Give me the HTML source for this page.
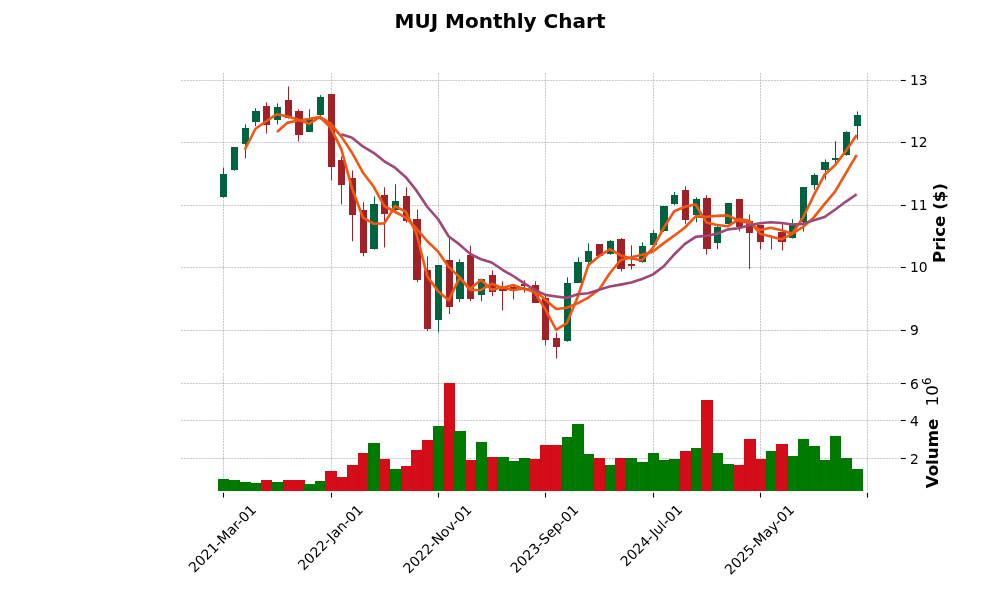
<!DOCTYPE html>
<html lang="en"><head><meta charset="utf-8"><title>MUJ Monthly Chart</title>
<style>html,body{margin:0;padding:0;background:#fff;width:1000px;height:600px;overflow:hidden}</style></head>
<body>
<svg width="1000" height="600" viewBox="0 0 1000 600" style="display:block">
<rect width="1000" height="600" fill="#ffffff"/>
<g stroke="#a8a8a8" stroke-width="0.62" stroke-dasharray="2.06 0.89" fill="none">
<path d="M181.0 80.5H898.6"/>
<path d="M181.0 142.5H898.6"/>
<path d="M181.0 205.5H898.6"/>
<path d="M181.0 267.5H898.6"/>
<path d="M181.0 330.5H898.6"/>
<path d="M181.0 383.5H898.6"/>
<path d="M181.0 420.5H898.6"/>
<path d="M181.0 458.5H898.6"/>
<path d="M223.50 73.2V370.6"/>
<path d="M223.50 373.2V490.6"/>
<path d="M331.50 73.2V370.6"/>
<path d="M331.50 373.2V490.6"/>
<path d="M438.50 73.2V370.6"/>
<path d="M438.50 373.2V490.6"/>
<path d="M545.50 73.2V370.6"/>
<path d="M545.50 373.2V490.6"/>
<path d="M653.50 73.2V370.6"/>
<path d="M653.50 373.2V490.6"/>
<path d="M760.50 73.2V370.6"/>
<path d="M760.50 373.2V490.6"/>
<path d="M867.50 73.2V370.6"/>
<path d="M867.50 373.2V490.6"/>
</g>
<g stroke-width="1">
<rect x="218" y="479" width="11" height="12" fill="#007a00" stroke="none"/>
<path d="M218.5 491V479.5H228.5V491" fill="none" stroke="#006e00" stroke-opacity="0.4"/>
<rect x="229" y="480" width="11" height="11" fill="#007a00" stroke="none"/>
<path d="M229.5 491V480.5H239.5V491" fill="none" stroke="#006e00" stroke-opacity="0.4"/>
<rect x="240" y="482" width="11" height="9" fill="#007a00" stroke="none"/>
<path d="M240.5 491V482.5H250.5V491" fill="none" stroke="#006e00" stroke-opacity="0.4"/>
<rect x="250" y="483" width="12" height="8" fill="#007a00" stroke="none"/>
<path d="M250.5 491V483.5H261.5V491" fill="none" stroke="#006e00" stroke-opacity="0.4"/>
<rect x="261" y="480" width="11" height="11" fill="#d50d18" stroke="none"/>
<path d="M261.5 491V480.5H271.5V491" fill="none" stroke="#c00c16" stroke-opacity="0.4"/>
<rect x="272" y="482" width="11" height="9" fill="#007a00" stroke="none"/>
<path d="M272.5 491V482.5H282.5V491" fill="none" stroke="#006e00" stroke-opacity="0.4"/>
<rect x="283" y="480" width="11" height="11" fill="#d50d18" stroke="none"/>
<path d="M283.5 491V480.5H293.5V491" fill="none" stroke="#c00c16" stroke-opacity="0.4"/>
<rect x="293" y="480" width="12" height="11" fill="#d50d18" stroke="none"/>
<path d="M293.5 491V480.5H304.5V491" fill="none" stroke="#c00c16" stroke-opacity="0.4"/>
<rect x="304" y="484" width="11" height="7" fill="#007a00" stroke="none"/>
<path d="M304.5 491V484.5H314.5V491" fill="none" stroke="#006e00" stroke-opacity="0.4"/>
<rect x="315" y="481" width="11" height="10" fill="#007a00" stroke="none"/>
<path d="M315.5 491V481.5H325.5V491" fill="none" stroke="#006e00" stroke-opacity="0.4"/>
<rect x="325" y="471" width="12" height="20" fill="#d50d18" stroke="none"/>
<path d="M325.5 491V471.5H336.5V491" fill="none" stroke="#c00c16" stroke-opacity="0.4"/>
<rect x="336" y="477" width="12" height="14" fill="#d50d18" stroke="none"/>
<path d="M336.5 491V477.5H347.5V491" fill="none" stroke="#c00c16" stroke-opacity="0.4"/>
<rect x="347" y="465" width="11" height="26" fill="#d50d18" stroke="none"/>
<path d="M347.5 491V465.5H357.5V491" fill="none" stroke="#c00c16" stroke-opacity="0.4"/>
<rect x="358" y="453" width="11" height="38" fill="#d50d18" stroke="none"/>
<path d="M358.5 491V453.5H368.5V491" fill="none" stroke="#c00c16" stroke-opacity="0.4"/>
<rect x="368" y="443" width="12" height="48" fill="#007a00" stroke="none"/>
<path d="M368.5 491V443.5H379.5V491" fill="none" stroke="#006e00" stroke-opacity="0.4"/>
<rect x="379" y="459" width="11" height="32" fill="#d50d18" stroke="none"/>
<path d="M379.5 491V459.5H389.5V491" fill="none" stroke="#c00c16" stroke-opacity="0.4"/>
<rect x="390" y="469" width="11" height="22" fill="#007a00" stroke="none"/>
<path d="M390.5 491V469.5H400.5V491" fill="none" stroke="#006e00" stroke-opacity="0.4"/>
<rect x="401" y="466" width="11" height="25" fill="#d50d18" stroke="none"/>
<path d="M401.5 491V466.5H411.5V491" fill="none" stroke="#c00c16" stroke-opacity="0.4"/>
<rect x="411" y="450" width="12" height="41" fill="#d50d18" stroke="none"/>
<path d="M411.5 491V450.5H422.5V491" fill="none" stroke="#c00c16" stroke-opacity="0.4"/>
<rect x="422" y="440" width="11" height="51" fill="#d50d18" stroke="none"/>
<path d="M422.5 491V440.5H432.5V491" fill="none" stroke="#c00c16" stroke-opacity="0.4"/>
<rect x="433" y="426" width="11" height="65" fill="#007a00" stroke="none"/>
<path d="M433.5 491V426.5H443.5V491" fill="none" stroke="#006e00" stroke-opacity="0.4"/>
<rect x="444" y="383" width="11" height="108" fill="#d50d18" stroke="none"/>
<path d="M444.5 491V383.5H454.5V491" fill="none" stroke="#c00c16" stroke-opacity="0.4"/>
<rect x="454" y="431" width="12" height="60" fill="#007a00" stroke="none"/>
<path d="M454.5 491V431.5H465.5V491" fill="none" stroke="#006e00" stroke-opacity="0.4"/>
<rect x="465" y="460" width="11" height="31" fill="#d50d18" stroke="none"/>
<path d="M465.5 491V460.5H475.5V491" fill="none" stroke="#c00c16" stroke-opacity="0.4"/>
<rect x="476" y="442" width="11" height="49" fill="#007a00" stroke="none"/>
<path d="M476.5 491V442.5H486.5V491" fill="none" stroke="#006e00" stroke-opacity="0.4"/>
<rect x="487" y="457" width="11" height="34" fill="#d50d18" stroke="none"/>
<path d="M487.5 491V457.5H497.5V491" fill="none" stroke="#c00c16" stroke-opacity="0.4"/>
<rect x="497" y="457" width="12" height="34" fill="#007a00" stroke="none"/>
<path d="M497.5 491V457.5H508.5V491" fill="none" stroke="#006e00" stroke-opacity="0.4"/>
<rect x="508" y="461" width="11" height="30" fill="#007a00" stroke="none"/>
<path d="M508.5 491V461.5H518.5V491" fill="none" stroke="#006e00" stroke-opacity="0.4"/>
<rect x="519" y="458" width="11" height="33" fill="#007a00" stroke="none"/>
<path d="M519.5 491V458.5H529.5V491" fill="none" stroke="#006e00" stroke-opacity="0.4"/>
<rect x="529" y="459" width="12" height="32" fill="#d50d18" stroke="none"/>
<path d="M529.5 491V459.5H540.5V491" fill="none" stroke="#c00c16" stroke-opacity="0.4"/>
<rect x="540" y="445" width="12" height="46" fill="#d50d18" stroke="none"/>
<path d="M540.5 491V445.5H551.5V491" fill="none" stroke="#c00c16" stroke-opacity="0.4"/>
<rect x="551" y="445" width="11" height="46" fill="#d50d18" stroke="none"/>
<path d="M551.5 491V445.5H561.5V491" fill="none" stroke="#c00c16" stroke-opacity="0.4"/>
<rect x="562" y="437" width="11" height="54" fill="#007a00" stroke="none"/>
<path d="M562.5 491V437.5H572.5V491" fill="none" stroke="#006e00" stroke-opacity="0.4"/>
<rect x="572" y="424" width="12" height="67" fill="#007a00" stroke="none"/>
<path d="M572.5 491V424.5H583.5V491" fill="none" stroke="#006e00" stroke-opacity="0.4"/>
<rect x="583" y="454" width="11" height="37" fill="#007a00" stroke="none"/>
<path d="M583.5 491V454.5H593.5V491" fill="none" stroke="#006e00" stroke-opacity="0.4"/>
<rect x="594" y="458" width="11" height="33" fill="#d50d18" stroke="none"/>
<path d="M594.5 491V458.5H604.5V491" fill="none" stroke="#c00c16" stroke-opacity="0.4"/>
<rect x="605" y="465" width="11" height="26" fill="#007a00" stroke="none"/>
<path d="M605.5 491V465.5H615.5V491" fill="none" stroke="#006e00" stroke-opacity="0.4"/>
<rect x="615" y="458" width="12" height="33" fill="#d50d18" stroke="none"/>
<path d="M615.5 491V458.5H626.5V491" fill="none" stroke="#c00c16" stroke-opacity="0.4"/>
<rect x="626" y="458" width="11" height="33" fill="#007a00" stroke="none"/>
<path d="M626.5 491V458.5H636.5V491" fill="none" stroke="#006e00" stroke-opacity="0.4"/>
<rect x="637" y="462" width="11" height="29" fill="#007a00" stroke="none"/>
<path d="M637.5 491V462.5H647.5V491" fill="none" stroke="#006e00" stroke-opacity="0.4"/>
<rect x="648" y="453" width="11" height="38" fill="#007a00" stroke="none"/>
<path d="M648.5 491V453.5H658.5V491" fill="none" stroke="#006e00" stroke-opacity="0.4"/>
<rect x="658" y="460" width="12" height="31" fill="#007a00" stroke="none"/>
<path d="M658.5 491V460.5H669.5V491" fill="none" stroke="#006e00" stroke-opacity="0.4"/>
<rect x="669" y="459" width="11" height="32" fill="#007a00" stroke="none"/>
<path d="M669.5 491V459.5H679.5V491" fill="none" stroke="#006e00" stroke-opacity="0.4"/>
<rect x="680" y="451" width="11" height="40" fill="#d50d18" stroke="none"/>
<path d="M680.5 491V451.5H690.5V491" fill="none" stroke="#c00c16" stroke-opacity="0.4"/>
<rect x="691" y="448" width="11" height="43" fill="#007a00" stroke="none"/>
<path d="M691.5 491V448.5H701.5V491" fill="none" stroke="#006e00" stroke-opacity="0.4"/>
<rect x="701" y="400" width="12" height="91" fill="#d50d18" stroke="none"/>
<path d="M701.5 491V400.5H712.5V491" fill="none" stroke="#c00c16" stroke-opacity="0.4"/>
<rect x="712" y="453" width="11" height="38" fill="#007a00" stroke="none"/>
<path d="M712.5 491V453.5H722.5V491" fill="none" stroke="#006e00" stroke-opacity="0.4"/>
<rect x="723" y="464" width="11" height="27" fill="#007a00" stroke="none"/>
<path d="M723.5 491V464.5H733.5V491" fill="none" stroke="#006e00" stroke-opacity="0.4"/>
<rect x="733" y="465" width="12" height="26" fill="#d50d18" stroke="none"/>
<path d="M733.5 491V465.5H744.5V491" fill="none" stroke="#c00c16" stroke-opacity="0.4"/>
<rect x="744" y="439" width="12" height="52" fill="#d50d18" stroke="none"/>
<path d="M744.5 491V439.5H755.5V491" fill="none" stroke="#c00c16" stroke-opacity="0.4"/>
<rect x="755" y="459" width="11" height="32" fill="#d50d18" stroke="none"/>
<path d="M755.5 491V459.5H765.5V491" fill="none" stroke="#c00c16" stroke-opacity="0.4"/>
<rect x="766" y="451" width="11" height="40" fill="#007a00" stroke="none"/>
<path d="M766.5 491V451.5H776.5V491" fill="none" stroke="#006e00" stroke-opacity="0.4"/>
<rect x="776" y="444" width="12" height="47" fill="#d50d18" stroke="none"/>
<path d="M776.5 491V444.5H787.5V491" fill="none" stroke="#c00c16" stroke-opacity="0.4"/>
<rect x="787" y="456" width="11" height="35" fill="#007a00" stroke="none"/>
<path d="M787.5 491V456.5H797.5V491" fill="none" stroke="#006e00" stroke-opacity="0.4"/>
<rect x="798" y="439" width="11" height="52" fill="#007a00" stroke="none"/>
<path d="M798.5 491V439.5H808.5V491" fill="none" stroke="#006e00" stroke-opacity="0.4"/>
<rect x="809" y="446" width="11" height="45" fill="#007a00" stroke="none"/>
<path d="M809.5 491V446.5H819.5V491" fill="none" stroke="#006e00" stroke-opacity="0.4"/>
<rect x="819" y="460" width="12" height="31" fill="#007a00" stroke="none"/>
<path d="M819.5 491V460.5H830.5V491" fill="none" stroke="#006e00" stroke-opacity="0.4"/>
<rect x="830" y="436" width="11" height="55" fill="#007a00" stroke="none"/>
<path d="M830.5 491V436.5H840.5V491" fill="none" stroke="#006e00" stroke-opacity="0.4"/>
<rect x="841" y="458" width="11" height="33" fill="#007a00" stroke="none"/>
<path d="M841.5 491V458.5H851.5V491" fill="none" stroke="#006e00" stroke-opacity="0.4"/>
<rect x="852" y="469" width="11" height="22" fill="#007a00" stroke="none"/>
<path d="M852.5 491V469.5H862.5V491" fill="none" stroke="#006e00" stroke-opacity="0.4"/>
</g>
<path d="M223.5 167.6V197.7" stroke="#006340" stroke-width="1"/>
<rect x="220" y="174" width="7" height="23" fill="#006340"/>
<path d="M234.5 147.1V170.8" stroke="#006340" stroke-width="1"/>
<rect x="231" y="147" width="7" height="23" fill="#006340"/>
<path d="M245.5 124.4V158.3" stroke="#006340" stroke-width="1"/>
<rect x="242" y="128" width="7" height="16" fill="#006340"/>
<path d="M255.5 108.2V126.0" stroke="#006340" stroke-width="1"/>
<rect x="252" y="111" width="8" height="11" fill="#006340"/>
<path d="M266.5 102.4V133.6" stroke="#a02128" stroke-width="1"/>
<rect x="263" y="106" width="7" height="19" fill="#a02128"/>
<path d="M277.5 103.4V124.5" stroke="#006340" stroke-width="1"/>
<rect x="274" y="107" width="7" height="13" fill="#006340"/>
<path d="M288.5 86.4V118.7" stroke="#a02128" stroke-width="1"/>
<rect x="285" y="100" width="7" height="18" fill="#a02128"/>
<path d="M298.5 109.3V141.6" stroke="#a02128" stroke-width="1"/>
<rect x="295" y="111" width="8" height="24" fill="#a02128"/>
<path d="M309.5 109.3V131.6" stroke="#006340" stroke-width="1"/>
<rect x="306" y="119" width="7" height="13" fill="#006340"/>
<path d="M320.5 95.1V119.5" stroke="#006340" stroke-width="1"/>
<rect x="317" y="97" width="7" height="18" fill="#006340"/>
<path d="M331.5 93.9V180.4" stroke="#a02128" stroke-width="1"/>
<rect x="328" y="94" width="7" height="73" fill="#a02128"/>
<path d="M341.5 156.4V204.4" stroke="#a02128" stroke-width="1"/>
<rect x="338" y="160" width="7" height="25" fill="#a02128"/>
<path d="M352.5 170.4V241.3" stroke="#a02128" stroke-width="1"/>
<rect x="349" y="178" width="7" height="37" fill="#a02128"/>
<path d="M363.5 202.2V256.3" stroke="#a02128" stroke-width="1"/>
<rect x="360" y="210" width="7" height="43" fill="#a02128"/>
<path d="M374.5 196.4V249.6" stroke="#006340" stroke-width="1"/>
<rect x="370" y="204" width="8" height="45" fill="#006340"/>
<path d="M384.5 187.3V247.4" stroke="#a02128" stroke-width="1"/>
<rect x="381" y="195" width="7" height="19" fill="#a02128"/>
<path d="M395.5 184.2V213.4" stroke="#006340" stroke-width="1"/>
<rect x="392" y="201" width="7" height="9" fill="#006340"/>
<path d="M406.5 187.3V222.6" stroke="#a02128" stroke-width="1"/>
<rect x="403" y="196" width="7" height="25" fill="#a02128"/>
<path d="M417.5 209.5V282.2" stroke="#a02128" stroke-width="1"/>
<rect x="413" y="219" width="8" height="61" fill="#a02128"/>
<path d="M427.5 256.4V331.3" stroke="#a02128" stroke-width="1"/>
<rect x="424" y="270" width="7" height="59" fill="#a02128"/>
<path d="M438.5 265.2V332.4" stroke="#006340" stroke-width="1"/>
<rect x="435" y="265" width="7" height="55" fill="#006340"/>
<path d="M449.5 238.1V314.0" stroke="#a02128" stroke-width="1"/>
<rect x="446" y="260" width="7" height="47" fill="#a02128"/>
<path d="M459.5 259.3V302.0" stroke="#006340" stroke-width="1"/>
<rect x="456" y="262" width="8" height="37" fill="#006340"/>
<path d="M470.5 245.6V301.2" stroke="#a02128" stroke-width="1"/>
<rect x="467" y="255" width="7" height="44" fill="#a02128"/>
<path d="M481.5 279.0V301.2" stroke="#006340" stroke-width="1"/>
<rect x="478" y="279" width="7" height="16" fill="#006340"/>
<path d="M492.5 270.4V296.3" stroke="#a02128" stroke-width="1"/>
<rect x="489" y="275" width="7" height="17" fill="#a02128"/>
<path d="M502.5 281.3V310.4" stroke="#a02128" stroke-width="1"/>
<rect x="499" y="289" width="8" height="2" fill="#a02128"/>
<path d="M513.5 284.4V299.4" stroke="#a02128" stroke-width="1"/>
<rect x="510" y="287" width="7" height="2" fill="#a02128"/>
<path d="M524.5 280.3V292.5" stroke="#a02128" stroke-width="1"/>
<rect x="521" y="284" width="7" height="2" fill="#a02128"/>
<path d="M535.5 281.3V302.7" stroke="#a02128" stroke-width="1"/>
<rect x="532" y="285" width="7" height="18" fill="#a02128"/>
<path d="M545.5 295.6V345.2" stroke="#a02128" stroke-width="1"/>
<rect x="542" y="298" width="7" height="42" fill="#a02128"/>
<path d="M556.5 332.6V358.5" stroke="#a02128" stroke-width="1"/>
<rect x="553" y="338" width="7" height="9" fill="#a02128"/>
<path d="M567.5 277.3V341.7" stroke="#006340" stroke-width="1"/>
<rect x="564" y="283" width="7" height="58" fill="#006340"/>
<path d="M578.5 257.3V282.7" stroke="#006340" stroke-width="1"/>
<rect x="574" y="262" width="8" height="21" fill="#006340"/>
<path d="M588.5 243.2V264.5" stroke="#006340" stroke-width="1"/>
<rect x="585" y="251" width="7" height="11" fill="#006340"/>
<path d="M599.5 244.0V255.7" stroke="#a02128" stroke-width="1"/>
<rect x="596" y="244" width="7" height="12" fill="#a02128"/>
<path d="M610.5 240.0V254.7" stroke="#006340" stroke-width="1"/>
<rect x="607" y="241" width="7" height="13" fill="#006340"/>
<path d="M621.5 238.1V271.5" stroke="#a02128" stroke-width="1"/>
<rect x="617" y="239" width="8" height="30" fill="#a02128"/>
<path d="M631.5 245.3V269.6" stroke="#a02128" stroke-width="1"/>
<rect x="628" y="264" width="7" height="2" fill="#a02128"/>
<path d="M642.5 242.4V262.7" stroke="#006340" stroke-width="1"/>
<rect x="639" y="246" width="7" height="16" fill="#006340"/>
<path d="M653.5 230.1V244.8" stroke="#006340" stroke-width="1"/>
<rect x="650" y="233" width="7" height="12" fill="#006340"/>
<path d="M663.5 205.9V232.0" stroke="#006340" stroke-width="1"/>
<rect x="660" y="206" width="8" height="25" fill="#006340"/>
<path d="M674.5 192.0V205.2" stroke="#006340" stroke-width="1"/>
<rect x="671" y="195" width="7" height="9" fill="#006340"/>
<path d="M685.5 186.4V223.8" stroke="#a02128" stroke-width="1"/>
<rect x="682" y="190" width="7" height="30" fill="#a02128"/>
<path d="M696.5 197.3V222.4" stroke="#006340" stroke-width="1"/>
<rect x="693" y="199" width="7" height="16" fill="#006340"/>
<path d="M706.5 195.2V254.4" stroke="#a02128" stroke-width="1"/>
<rect x="703" y="198" width="8" height="51" fill="#a02128"/>
<path d="M717.5 225.3V249.3" stroke="#006340" stroke-width="1"/>
<rect x="714" y="227" width="7" height="16" fill="#006340"/>
<path d="M728.5 202.9V224.0" stroke="#006340" stroke-width="1"/>
<rect x="725" y="203" width="7" height="21" fill="#006340"/>
<path d="M739.5 198.9V231.4" stroke="#a02128" stroke-width="1"/>
<rect x="736" y="199" width="7" height="28" fill="#a02128"/>
<path d="M749.5 214.5V269.1" stroke="#a02128" stroke-width="1"/>
<rect x="746" y="221" width="7" height="12" fill="#a02128"/>
<path d="M760.5 225.0V249.5" stroke="#a02128" stroke-width="1"/>
<rect x="757" y="225" width="7" height="17" fill="#a02128"/>
<path d="M771.5 235.4V249.5" stroke="#a02128" stroke-width="1"/>
<path d="M782.5 224.0V250.5" stroke="#a02128" stroke-width="1"/>
<rect x="778" y="232" width="8" height="10" fill="#a02128"/>
<path d="M792.5 219.2V238.5" stroke="#006340" stroke-width="1"/>
<rect x="789" y="224" width="7" height="14" fill="#006340"/>
<path d="M803.5 187.0V231.5" stroke="#006340" stroke-width="1"/>
<rect x="800" y="187" width="7" height="35" fill="#006340"/>
<path d="M814.5 173.4V189.7" stroke="#006340" stroke-width="1"/>
<rect x="811" y="175" width="7" height="10" fill="#006340"/>
<path d="M825.5 159.4V179.5" stroke="#006340" stroke-width="1"/>
<rect x="821" y="162" width="8" height="8" fill="#006340"/>
<path d="M835.5 141.3V163.0" stroke="#006340" stroke-width="1"/>
<rect x="832" y="158" width="7" height="2" fill="#006340"/>
<path d="M846.5 131.2V155.6" stroke="#006340" stroke-width="1"/>
<rect x="843" y="132" width="7" height="23" fill="#006340"/>
<path d="M857.5 111.4V139.6" stroke="#006340" stroke-width="1"/>
<rect x="854" y="115" width="7" height="11" fill="#006340"/>
<path d="M244.74 149.73 L255.47 128.73 L266.21 121.23 L276.95 114.20 L287.68 116.47 L298.42 119.80 L309.16 123.87 L319.89 116.97 L330.63 127.60 L341.37 149.40 L352.10 188.60 L362.84 217.27 L373.58 223.73 L384.31 223.37 L395.05 206.20 L405.79 211.73 L416.52 233.70 L427.26 276.27 L438.00 291.13 L448.73 300.13 L459.47 277.90 L470.20 289.00 L480.94 279.83 L491.68 289.73 L502.41 287.17 L513.15 290.33 L523.89 288.27 L534.62 292.23 L545.36 309.33 L556.10 329.77 L566.83 323.20 L577.57 297.30 L588.31 265.33 L599.04 256.23 L609.78 249.23 L620.52 255.20 L631.25 258.50 L641.99 260.17 L652.72 248.17 L663.46 228.27 L674.20 211.20 L684.93 206.80 L695.67 204.47 L706.41 222.43 L717.14 224.97 L727.88 226.30 L738.62 219.07 L749.35 220.83 L760.09 233.77 L770.83 236.40 L781.56 239.47 L792.30 233.57 L803.04 217.57 L813.77 195.33 L824.51 174.70 L835.25 165.07 L845.98 150.70 L856.72 135.00" fill="none" stroke="#ef5714" stroke-width="2.6" stroke-linejoin="round" stroke-linecap="butt"/>
<path d="M276.95 131.97 L287.68 122.60 L298.42 120.52 L309.16 119.03 L319.89 116.72 L330.63 123.70 L341.37 136.63 L352.10 152.78 L362.84 172.43 L373.58 186.57 L384.31 205.98 L395.05 211.73 L405.79 217.73 L416.52 228.53 L427.26 241.23 L438.00 251.43 L448.73 266.92 L459.47 277.08 L470.20 290.07 L480.94 289.98 L491.68 283.82 L502.41 288.08 L513.15 285.08 L523.89 289.00 L534.62 289.70 L545.36 299.83 L556.10 309.02 L566.83 307.72 L577.57 303.32 L588.31 297.55 L599.04 289.72 L609.78 273.27 L620.52 260.27 L631.25 257.37 L641.99 254.70 L652.72 251.68 L663.46 243.38 L674.20 235.68 L684.93 227.48 L695.67 216.37 L706.41 216.82 L717.14 215.88 L727.88 215.38 L738.62 220.75 L749.35 222.90 L760.09 230.03 L770.83 227.73 L781.56 230.15 L792.30 233.67 L803.04 226.98 L813.77 217.40 L824.51 204.13 L835.25 191.32 L845.98 173.02 L856.72 154.85" fill="none" stroke="#ef5714" stroke-width="2.6" stroke-linejoin="round" stroke-linecap="butt"/>
<path d="M341.37 134.30 L352.10 137.69 L362.84 146.47 L373.58 152.80 L384.31 161.35 L395.05 167.72 L405.79 177.18 L416.52 190.66 L427.26 206.83 L438.00 219.00 L448.73 236.45 L459.47 244.41 L470.20 253.90 L480.94 259.26 L491.68 262.53 L502.41 269.76 L513.15 276.00 L523.89 283.04 L534.62 289.88 L545.36 294.91 L556.10 296.42 L566.83 297.90 L577.57 294.20 L588.31 293.28 L599.04 289.71 L609.78 286.55 L620.52 284.64 L631.25 282.54 L641.99 279.01 L652.72 274.62 L663.46 266.55 L674.20 254.48 L684.93 243.88 L695.67 236.87 L706.41 235.76 L717.14 233.78 L727.88 229.38 L738.62 228.22 L749.35 225.19 L760.09 223.20 L770.83 222.28 L781.56 223.02 L792.30 224.53 L803.04 223.87 L813.77 220.15 L824.51 217.08 L835.25 209.53 L845.98 201.58 L856.72 194.26" fill="none" stroke="#9f4878" stroke-width="2.6" stroke-linejoin="round" stroke-linecap="butt"/>
<g stroke="#000" stroke-width="1.1">
<path d="M900.8 80.5H905.7"/>
<path d="M900.8 142.5H905.7"/>
<path d="M900.8 205.5H905.7"/>
<path d="M900.8 267.5H905.7"/>
<path d="M900.8 330.5H905.7"/>
<path d="M900.8 383.5H905.7"/>
<path d="M900.8 420.5H905.7"/>
<path d="M900.8 458.5H905.7"/>
<path d="M223.50 492.8V497.5"/>
<path d="M331.50 492.8V497.5"/>
<path d="M438.50 492.8V497.5"/>
<path d="M545.50 492.8V497.5"/>
<path d="M653.50 492.8V497.5"/>
<path d="M760.50 492.8V497.5"/>
<path d="M867.50 492.8V497.5"/>
</g>
<g font-family="'DejaVu Sans', 'Liberation Sans', sans-serif" font-size="13.89px" fill="#000">
<text x="910" y="85.3">13</text>
<text x="910" y="147.3">12</text>
<text x="910" y="210.3">11</text>
<text x="910" y="272.3">10</text>
<text x="910" y="335.3">9</text>
<text x="910" y="388.8">6</text>
<text x="910" y="425.8">4</text>
<text x="910" y="463.8">2</text>
<text transform="translate(222.20 538.5) rotate(-45)" text-anchor="middle" dominant-baseline="central">2021-Mar-01</text>
<text transform="translate(330.20 537.39515625) rotate(-45)" text-anchor="middle" dominant-baseline="central">2022-Jan-01</text>
<text transform="translate(437.20 539.002041) rotate(-45)" text-anchor="middle" dominant-baseline="central">2022-Nov-01</text>
<text transform="translate(544.20 538.80935625) rotate(-45)" text-anchor="middle" dominant-baseline="central">2023-Sep-01</text>
<text transform="translate(651.30 535.3529165) rotate(-45)" text-anchor="middle" dominant-baseline="central">2024-Jul-01</text>
<text transform="translate(759.20 539.617218) rotate(-45)" text-anchor="middle" dominant-baseline="central">2025-May-01</text>
</g>
<text transform="translate(945 223) rotate(-90)" text-anchor="middle" font-family="'DejaVu Sans', 'Liberation Sans', sans-serif" font-size="16.67px" font-weight="bold" fill="#000">Price ($)</text>
<text transform="translate(938.3 488.3) rotate(-90)" font-family="'DejaVu Sans', 'Liberation Sans', sans-serif" font-size="16.67px" font-weight="bold" fill="#000">Volume</text>
<text transform="translate(938.3 406.3) rotate(-90)" font-family="'DejaVu Sans', 'Liberation Sans', sans-serif" font-size="16.67px" fill="#000">10</text>
<text transform="translate(930.9 384.9) rotate(-90)" font-family="'DejaVu Sans', 'Liberation Sans', sans-serif" font-size="11.67px" fill="#000">6</text>
<text x="500" y="27.8" text-anchor="middle" font-family="'DejaVu Sans', 'Liberation Sans', sans-serif" font-size="20px" font-weight="bold" fill="#000">MUJ Monthly Chart</text>
</svg>
</body></html>
